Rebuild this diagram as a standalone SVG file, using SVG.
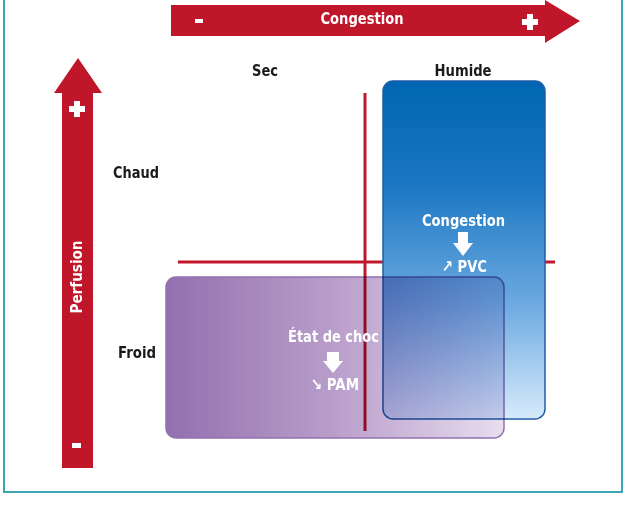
<svg xmlns="http://www.w3.org/2000/svg" width="626" height="516" viewBox="0 0 626 516">
<defs>
<linearGradient id="gBlue" x1="0" y1="0" x2="0" y2="1">
<stop offset="0" stop-color="#0066b2"/>
<stop offset="0.3" stop-color="#1a76c2"/>
<stop offset="0.65" stop-color="#6aa8df"/>
<stop offset="1" stop-color="#d6ebfb"/>
</linearGradient>
<linearGradient id="gPurple" x1="0" y1="0" x2="1" y2="0">
<stop offset="0" stop-color="#8a63a8"/>
<stop offset="0.5" stop-color="#b396c6"/>
<stop offset="1" stop-color="#e6dbee"/>
</linearGradient>
<style>
.arr{fill:#c0162a}
.ax{stroke:#c0162a;stroke-width:3;fill:none}
.t{font-family:"DejaVu Sans Condensed","DejaVu Sans",sans-serif;font-weight:bold;text-anchor:middle}
.w{fill:#ffffff}
.k{fill:#1a1a1a;font-size:16px}
.wa{fill:#ffffff}
</style>
</defs>
<rect x="4" y="-4" width="618" height="496" fill="#ffffff" stroke="#3aa6b3" stroke-width="2"/>

<g id="axis-congestion">
<polygon class="arr" points="171,5 545,5 545,0 580,21 545,43 545,36 171,36"/>
<rect class="wa" x="195" y="19" width="8" height="4"/>
<text class="t w" x="362" y="24" font-size="16.5" textLength="83" lengthAdjust="spacingAndGlyphs">Congestion</text>
<path class="wa" d="M527,14h6v5h5v6h-5v5h-6v-5h-5v-6h5z"/>
</g>

<g id="axis-perfusion">
<polygon class="arr" points="62,468 62,93 54,93 78,58 102,93 93,93 93,468"/>
<path class="wa" d="M74,101h6v5h5v6h-5v5h-6v-5h-5v-6h5z"/>
<text class="t w" transform="translate(82,277) rotate(-90)" x="0" y="0" font-size="16" textLength="73" lengthAdjust="spacingAndGlyphs">Perfusion</text>
<rect class="wa" x="72" y="443" width="9" height="5"/>
</g>

<g id="labels">
<text class="t k" x="265" y="76" textLength="26" lengthAdjust="spacingAndGlyphs">Sec</text>
<text class="t k" x="463" y="76" textLength="57" lengthAdjust="spacingAndGlyphs">Humide</text>
<text class="t k" x="136" y="178" textLength="46" lengthAdjust="spacingAndGlyphs">Chaud</text>
<text class="t k" x="137" y="358" textLength="38" lengthAdjust="spacingAndGlyphs">Froid</text>
</g>

<g id="connectors">
<line class="ax" x1="365" y1="93" x2="365" y2="431"/>
<line class="ax" x1="178" y1="262" x2="555" y2="262"/>
</g>

<g id="node-congestion">
<rect x="383" y="81" width="162" height="338" rx="10" fill="url(#gBlue)" stroke="#1f5ea6" stroke-width="1.5"/>
</g>

<g id="node-choc">
<rect x="166" y="277" width="338" height="161" rx="10" fill="url(#gPurple)" stroke="#8a65a6" stroke-width="1.5" style="mix-blend-mode:multiply" opacity="0.92"/>
</g>

<g id="text-congestion">
<text class="t w" x="463.5" y="226" font-size="16.5" textLength="83" lengthAdjust="spacingAndGlyphs">Congestion</text>
<polygon class="wa" points="458,232 468,232 468,243 473,243 463,256 453,243 458,243"/>
<text class="t w" x="464.5" y="272" font-size="16.5" textLength="45" lengthAdjust="spacingAndGlyphs">↗ PVC</text>
</g>

<g id="text-choc">
<text class="t w" x="333.5" y="342" font-size="16.5" textLength="91" lengthAdjust="spacingAndGlyphs">État de choc</text>
<polygon class="wa" points="327,352 339,352 339,361 343,361 333,373 323,361 327,361"/>
<text class="t w" x="335" y="390" font-size="16.5" textLength="48" lengthAdjust="spacingAndGlyphs">↘ PAM</text>
</g>
</svg>
